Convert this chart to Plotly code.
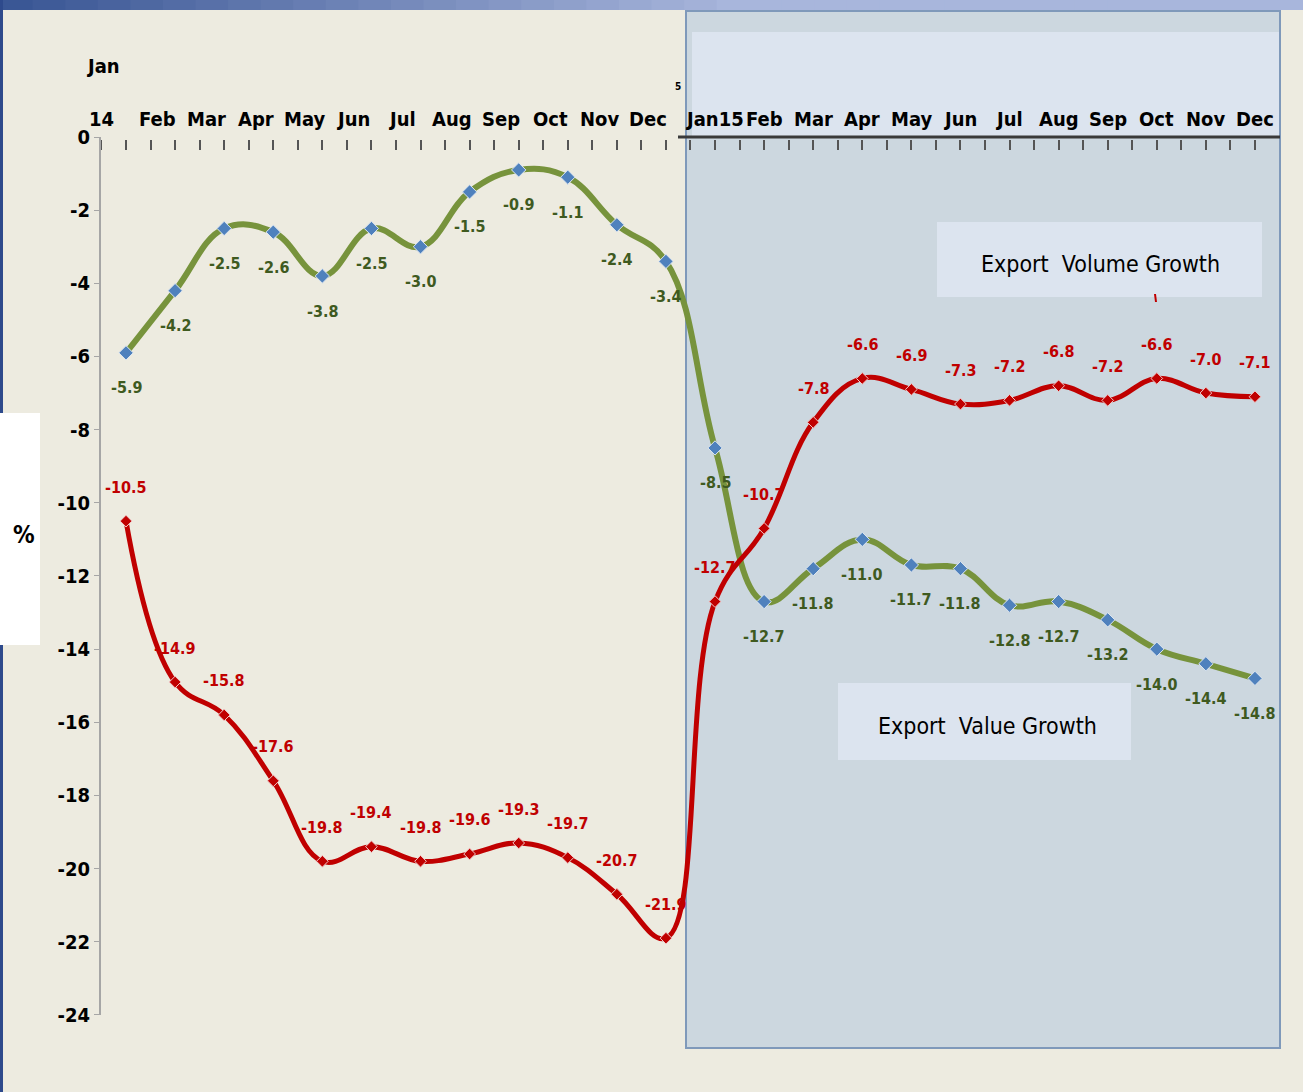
import plotly.graph_objects as go

# ---------------- data ----------------
months_2014 = ["14", "Feb", "Mar", "Apr", "May", "Jun", "Jul", "Aug", "Sep", "Oct", "Nov", "Dec"]
months_2015 = ["Jan15", "Feb", "Mar", "Apr", "May", "Jun", "Jul", "Aug", "Sep", "Oct", "Nov", "Dec"]

# Export Value Growth (green)
value_growth = [-5.9, -4.2, -2.5, -2.6, -3.8, -2.5, -3.0, -1.5, -0.9, -1.1, -2.4, -3.4,
                -8.5, -12.7, -11.8, -11.0, -11.7, -11.8, -12.8, -12.7, -13.2, -14.0, -14.4, -14.8]
# Export Volume Growth (red)
volume_growth = [-10.5, -14.9, -15.8, -17.6, -19.8, -19.4, -19.8, -19.6, -19.3, -19.7, -20.7, -21.9,
                 -12.7, -10.7, -7.8, -6.6, -6.9, -7.3, -7.2, -6.8, -7.2, -6.6, -7.0, -7.1]

y_ticks = [0, -2, -4, -6, -8, -10, -12, -14, -16, -18, -20, -22, -24]
y_tick_text = ["0", "-2", "-4", "-6", "-8", "-10", "-12", "-14", "-16", "-18", "-20", "-22", "-24"]

# ---------------- style ----------------
W, H = 1303, 1092
ML, MR, MT, MB = 100, 23, 10, 44
PW, PH = W - ML - MR, H - MT - MB
FONT = "DejaVu Sans Condensed, Liberation Sans Narrow, Arial Narrow, sans-serif"
BG = "#EDEBE0"
GREEN = "#77933C"
GREEN_TXT = "#3F5A1F"
RED = "#C00000"
BLUE_MK = "#4F81BD"


def px(x):
    return (x - ML) / PW


def py(y):
    return 1 - (y - MT) / PH


n = len(value_growth)
xs = list(range(n))

fig = go.Figure()
fig.add_trace(go.Scatter(
    x=xs, y=value_growth, mode="lines+markers", name="Export Value Growth",
    line=dict(color=GREEN, width=6, shape="spline", smoothing=1.15),
    marker=dict(symbol="diamond", size=11, color=BLUE_MK, line=dict(color="#DDE6F0", width=1)),
    showlegend=False, cliponaxis=False))
fig.add_trace(go.Scatter(
    x=xs, y=volume_growth, mode="lines+markers", name="Export Volume Growth",
    line=dict(color=RED, width=5, shape="spline", smoothing=1.15),
    marker=dict(symbol="diamond", size=9, color=RED, line=dict(color="#F0C8C8", width=1)),
    showlegend=False, cliponaxis=False))

annotations = []
# data labels
for i, v in enumerate(value_growth):
    annotations.append(dict(x=i, y=v, xref="x", yref="y", text=f"{v:.1f}", showarrow=False,
                            yshift=-35, font=dict(family=FONT, size=16, color=GREEN_TXT, weight="bold")))
for i, v in enumerate(volume_growth):
    annotations.append(dict(x=i, y=v, xref="x", yref="y", text=f"{v:.1f}", showarrow=False,
                            yshift=34, font=dict(family=FONT, size=16, color=RED, weight="bold")))

# month labels on top axis
for i, m in enumerate(months_2014):
    annotations.append(dict(x=(i - 0.36) if i > 0 else -0.5, y=0.1, xref="x", yref="y", text=m,
                            showarrow=False, xanchor="center", yanchor="bottom",
                            font=dict(family=FONT, size=20, color="black", weight="bold")))
for i, m in enumerate(months_2015):
    annotations.append(dict(x=12 + i, y=0.1, xref="x", yref="y", text=m,
                            showarrow=False, xanchor="center", yanchor="bottom",
                            font=dict(family=FONT, size=20, color="black", weight="bold")))
annotations.append(dict(x=-0.45, y=1.95, xref="x", yref="y", text="Jan", showarrow=False,
                        xanchor="center", yanchor="middle",
                        font=dict(family=FONT, size=20, color="black", weight="bold")))
annotations.append(dict(x=px(678), y=py(86), xref="paper", yref="paper", text="5", showarrow=False,
                        xanchor="center", yanchor="middle",
                        font=dict(family=FONT, size=10, color="black", weight="bold")))

# series name boxes
annotations.append(dict(x=px(1100), y=py(264), xref="paper", yref="paper", text="Export  Volume Growth",
                        showarrow=False, xanchor="center", yanchor="middle",
                        font=dict(family=FONT, size=23, color="black")))
annotations.append(dict(x=px(987), y=py(726), xref="paper", yref="paper", text="Export  Value Growth",
                        showarrow=False, xanchor="center", yanchor="middle",
                        font=dict(family=FONT, size=23, color="black")))
# % label
annotations.append(dict(x=px(24), y=py(535), xref="paper", yref="paper", text="%",
                        showarrow=False, xanchor="center", yanchor="middle",
                        font=dict(family=FONT, size=24, color="black", weight="bold")))

shapes = []
# top gradient band
segs = 40
c0 = (58, 87, 149)
c1 = (168, 182, 220)
for k in range(segs):
    t = min(1.0, k / (segs * 0.55))
    col = tuple(int(c0[j] + (c1[j] - c0[j]) * t) for j in range(3))
    shapes.append(dict(type="rect", xref="paper", yref="paper",
                       x0=px(k * W / segs), x1=px((k + 1) * W / segs + 1), y0=py(10), y1=py(0),
                       fillcolor=f"rgb{col}", line=dict(width=0), layer="below"))
# left blue border
shapes.append(dict(type="rect", xref="paper", yref="paper", x0=px(0), x1=px(3), y0=py(H), y1=py(0),
                   fillcolor="#2E4A8C", line=dict(width=0), layer="below"))
# white % box
shapes.append(dict(type="rect", xref="paper", yref="paper", x0=px(0), x1=px(40), y0=py(645), y1=py(413),
                   fillcolor="white", line=dict(width=0), layer="below"))
# right panel
shapes.append(dict(type="rect", xref="paper", yref="paper", x0=px(686), x1=px(1280), y0=py(1048), y1=py(11),
                   fillcolor="#CCD7DF", line=dict(color="#7F99BA", width=2), layer="below"))
shapes.append(dict(type="rect", xref="paper", yref="paper", x0=px(692), x1=px(1279), y0=py(136), y1=py(32),
                   fillcolor="#DCE4EF", line=dict(width=0), layer="below"))
# label boxes
shapes.append(dict(type="rect", xref="paper", yref="paper", x0=px(937), x1=px(1262), y0=py(297), y1=py(222),
                   fillcolor="#DCE4EF", line=dict(width=0), layer="below"))
shapes.append(dict(type="rect", xref="paper", yref="paper", x0=px(838), x1=px(1131), y0=py(760), y1=py(683),
                   fillcolor="#DCE4EF", line=dict(width=0), layer="below"))
# small red pointer
shapes.append(dict(type="line", xref="paper", yref="paper", x0=px(1155), x1=px(1156), y0=py(294), y1=py(302),
                   line=dict(color=RED, width=2)))
# right panel axis line
shapes.append(dict(type="line", xref="paper", yref="y", x0=px(678), x1=px(1280), y0=0, y1=0,
                   line=dict(color="#3A3A3A", width=3)))
# left y axis line
shapes.append(dict(type="line", xref="paper", yref="y", x0=0, x1=0, y0=0, y1=-24,
                   line=dict(color="#A6A6A6", width=2)))

fig.update_layout(
    width=W, height=H,
    margin=dict(l=ML, r=MR, t=MT, b=MB),
    paper_bgcolor=BG, plot_bgcolor="rgba(0,0,0,0)",
    xaxis=dict(range=[-0.53, 23.51], showgrid=False, zeroline=False, showline=False,
               side="top", anchor="free", position=py(139),
               tick0=0, dtick=0.5, ticks="inside", ticklen=10, tickwidth=1.5, tickcolor="#555555",
               showticklabels=False),
    yaxis=dict(range=[-24.904, 3.472], showgrid=False, zeroline=False, showline=False,
               tickvals=y_ticks, ticktext=y_tick_text, ticks="outside", ticklen=5, tickcolor="#A6A6A6",
               tickfont=dict(family=FONT, size=20, color="black", weight="bold")),
    shapes=shapes, annotations=annotations,
)

fig.write_html("out.html")
